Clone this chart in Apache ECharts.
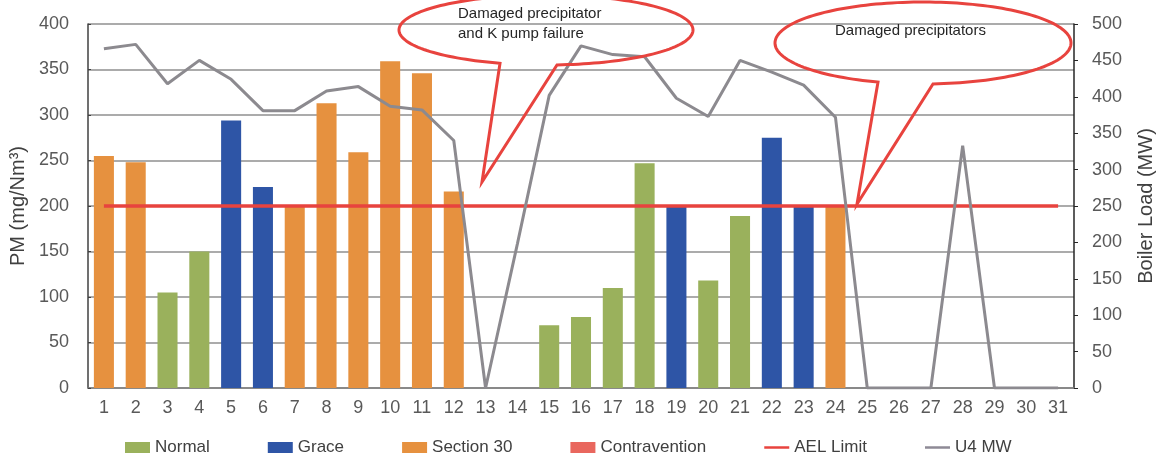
<!DOCTYPE html>
<html>
<head>
<meta charset="utf-8">
<script src="https://cdn.jsdelivr.net/npm/echarts@6/dist/echarts.min.js"></script>
<style>
  html, body { margin: 0; padding: 0; background: #ffffff; }
  #chart { width: 1159px; height: 465px; }
</style>
</head>
<body>
<div id="chart"></div>
<script>
// Day of month
const days = ['1','2','3','4','5','6','7','8','9','10','11','12','13','14','15','16',
              '17','18','19','20','21','22','23','24','25','26','27','28','29','30','31'];

// Daily particulate matter emission (mg/Nm³); null = no measurement
const pm = [255, 248, 105, 150, 294, 221, 200, 313, 259, 359, 346, 216, null, null,
            69, 78, 110, 247, 200, 118, 189, 275, 200, 200, null, null, null, null, null, null, null];

// Compliance status of each day: N = Normal, G = Grace, S = Section 30
const status = ['S','S','N','N','G','G','S','S','S','S','S','S', null, null,
                'N','N','N','N','G','N','N','G','G','S', null, null, null, null, null, null, null];

// Unit 4 boiler load (MW)
const u4Load = [466, 472, 418, 450, 424, 381, 381, 408, 414, 387, 382, 340, 0, 198,
                402, 470, 458, 455, 398, 373, 450, 434, 416, 372, 0, 0, 0, 333, 0, 0, 0];

// Atmospheric emission licence limit (mg/Nm³)
const aelLimit = [200, 200, 200, 200, 200, 200, 200, 200, 200, 200, 200, 200, 200, 200, 200, 200,
                  200, 200, 200, 200, 200, 200, 200, 200, 200, 200, 200, 200, 200, 200, 200];

const statusSeries = [
  { code: 'N', name: 'Normal',        color: '#9AB15C' },
  { code: 'G', name: 'Grace',         color: '#2E55A6' },
  { code: 'S', name: 'Section 30',    color: '#E6913F' },
  { code: 'C', name: 'Contravention', color: '#E9675E' }
];

const FONT = 'Liberation Sans';
const RED = '#E8433E';
const GREY = '#8C8A8F';
// thin horizontal bar used as the legend key of the line series
const LINE_KEY = 'path://M0,0 L90,0 L90,9 L0,9 Z';

const barSeries = statusSeries.map(s => ({
  name: s.name,
  type: 'bar',
  stack: 'pm',
  barCategoryGap: '37%',
  itemStyle: { color: s.color },
  data: pm.map((v, i) => (status[i] === s.code && v != null) ? v : '-')
}));

// Outline of an elliptical speech bubble: the ellipse is left open between
// the two base points xA (left) and xB (right) on its lower edge, and the
// pointer runs from there down to the tip.
function calloutOutline(cx, cy, rx, ry, xA, xB, tip) {
  const tA = Math.acos((xA - cx) / rx);
  const tB = Math.acos((xB - cx) / rx);
  const end = tA - 2 * Math.PI;
  const steps = 160;
  const pts = [];
  for (let k = 0; k <= steps; k++) {
    const t = tB + (end - tB) * k / steps;
    pts.push([cx + rx * Math.cos(t), cy + ry * Math.sin(t)]);
  }
  pts.push(tip);
  return pts;
}

const chart = echarts.init(document.getElementById('chart'), null, { renderer: 'canvas' });

chart.setOption({
  animation: false,
  backgroundColor: '#ffffff',
  textStyle: { fontFamily: FONT },
  grid: { left: 88, right: 85, top: 24, bottom: 77, outerBoundsMode: 'none' },
  legend: {
    bottom: 4,
    left: 120,
    itemWidth: 25,
    itemHeight: 11,
    itemGap: 58,
    symbolKeepAspect: true,
    textStyle: { fontFamily: FONT, fontSize: 17, color: '#404040' },
    data: [
      { name: 'Normal', icon: 'rect' },
      { name: 'Grace', icon: 'rect' },
      { name: 'Section 30', icon: 'rect' },
      { name: 'Contravention', icon: 'rect' },
      { name: 'AEL Limit', icon: LINE_KEY },
      { name: 'U4 MW', icon: LINE_KEY }
    ]
  },
  xAxis: {
    type: 'category',
    data: days,
    axisLine: { lineStyle: { color: '#7f7f7f', width: 1.5 } },
    axisTick: { show: false },
    axisLabel: { color: '#595959', fontSize: 18, fontFamily: FONT, margin: 11 }
  },
  yAxis: [
    {
      type: 'value',
      min: 0, max: 400, interval: 50,
      name: 'PM (mg/Nm³)',
      nameLocation: 'middle',
      nameRotate: 90,
      nameGap: 57,
      nameTextStyle: { color: '#404040', fontSize: 20, fontFamily: FONT },
      axisLine: { show: true, lineStyle: { color: '#404040', width: 1.5 } },
      axisTick: { show: true, inside: true, length: 3, lineStyle: { color: '#404040' } },
      axisLabel: { color: '#595959', fontSize: 18, fontFamily: FONT, margin: 19 },
      splitLine: { show: true, lineStyle: { color: '#8f8f8f', width: 1.5 } }
    },
    {
      type: 'value',
      position: 'right',
      min: 0, max: 500, interval: 50,
      name: 'Boiler Load (MW)',
      nameLocation: 'middle',
      nameRotate: 90,
      nameGap: 62,
      nameTextStyle: { color: '#404040', fontSize: 20, fontFamily: FONT },
      axisLine: { show: true, lineStyle: { color: '#262626', width: 1.5 } },
      axisTick: { show: true, length: 4, lineStyle: { color: '#262626' } },
      axisLabel: { color: '#595959', fontSize: 18, fontFamily: FONT, margin: 18 },
      splitLine: { show: false }
    }
  ],
  series: barSeries.concat([
    {
      name: 'AEL Limit',
      type: 'line',
      yAxisIndex: 0,
      data: aelLimit,
      symbol: 'none',
      z: 3,
      itemStyle: { color: RED },
      lineStyle: { color: RED, width: 3.5 }
    },
    {
      name: 'U4 MW',
      type: 'line',
      yAxisIndex: 1,
      data: u4Load,
      symbol: 'none',
      z: 4,
      itemStyle: { color: '#8E8A96' },
      lineStyle: { color: GREY, width: 3 }
    }
  ]),
  graphic: [
    {
      type: 'polygon',
      z: 10,
      shape: { points: calloutOutline(546, 30, 147, 35, 500, 557, [482, 182]) },
      style: { fill: 'none', stroke: RED, lineWidth: 3, lineJoin: 'miter' }
    },
    {
      type: 'text',
      z: 11,
      left: 458, top: 4,
      style: {
        text: 'Damaged precipitator\nand K pump failure',
        fill: '#262626', font: '15px "Liberation Sans"', lineHeight: 20
      }
    },
    {
      type: 'polygon',
      z: 10,
      shape: { points: calloutOutline(923, 43, 148, 41, 878, 933, [857, 204]) },
      style: { fill: 'none', stroke: RED, lineWidth: 3, lineJoin: 'miter' }
    },
    {
      type: 'text',
      z: 11,
      left: 835, top: 23,
      style: {
        text: 'Damaged precipitators',
        fill: '#262626', font: '15px "Liberation Sans"'
      }
    }
  ]
});
</script>
</body>
</html>
